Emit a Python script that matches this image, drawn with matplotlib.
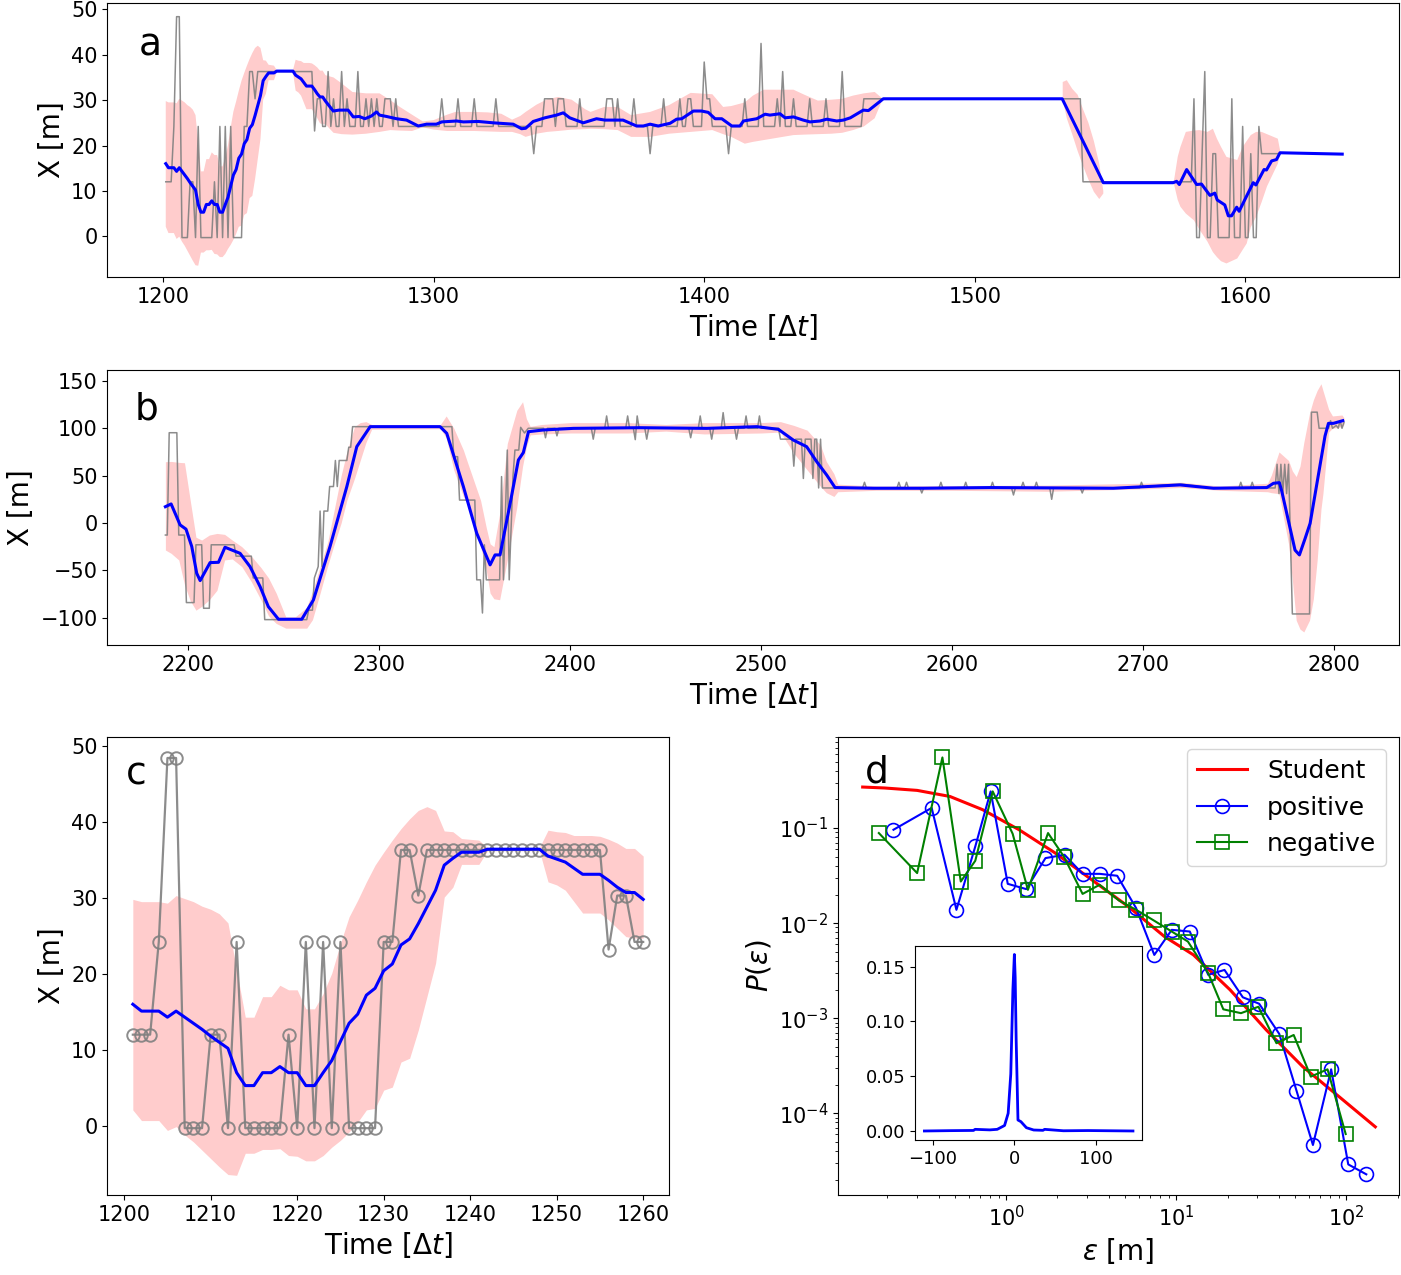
import numpy as np
import matplotlib
matplotlib.use("Agg")
import matplotlib.pyplot as plt

# ---- panel c / start of panel a (t = 1201..1260) ----
c_t = np.arange(1201, 1261)
c_gray = [12, 12, 12, 24.2, 48.4, 48.4, -0.3, -0.3, -0.3, 12, 12, -0.3, 24.2,
          -0.3, -0.3, -0.3, -0.3, -0.3, 12, -0.3, 24.2, -0.3, 24.2, -0.3, 24.2,
          -0.3, -0.3, -0.3, -0.3, 24.2, 24.2, 36.3, 36.3, 30.3,
          36.3, 36.3, 36.3, 36.3, 36.3, 36.3, 36.3, 36.3, 36.3, 36.3, 36.3,
          36.3, 36.3, 36.3, 36.3, 36.3, 36.3, 36.3, 36.3, 36.3, 36.3,
          23.2, 30.3, 30.3, 24.2, 24.2]
c_mean = [16.0, 15.1, 15.1, 15.1, 14.3, 15.1, 14.3, 13.5, 12.7, 11.8, 11.0, 10.2,
          7.0, 5.3, 5.3, 7.0, 7.0, 7.8, 7.0, 7.0, 5.3, 5.3, 7.0, 8.6, 11.1, 13.5,
          14.7, 17.2, 18.1, 20.4, 21.3, 23.8, 24.6, 26.6, 28.8, 31.0, 34.3, 35.2,
          36.0, 36.0, 36.0, 36.4, 36.4, 36.4, 36.4, 36.4, 36.4, 36.4,
          35.5, 35.1, 34.7, 33.9, 33.1, 33.1, 33.1, 32.3, 31.4, 30.7, 30.7, 29.8]
c_hi = [29.8, 29.5, 29.5, 29.5, 29.3, 30.3, 29.9, 29.5, 28.9, 28.5, 27.9, 26.7,
        20.5, 14.3, 14.3, 17.0, 17.0, 18.5, 17.9, 17.9, 15.4, 15.4, 17.4, 20.1,
        24.0, 27.5, 29.7, 32.1, 34.3, 36.0, 37.6, 39.1, 40.4, 41.5, 42.0, 41.5,
        38.8, 38.7, 37.8, 37.7, 37.6, 36.6, 36.6, 36.6, 36.6, 36.6, 36.6, 36.6,
        38.9, 38.7, 38.6, 38.2, 38.2, 38.2, 38.1, 37.7, 37.2, 36.5, 36.5, 35.5]
c_lo = [2.1, 0.7, 0.7, 0.7, -0.6, -0.1, -1.2, -2.1, -3.2, -4.3, -5.4, -6.4,
        -6.5, -3.6, -3.6, -3.1, -3.1, -3.0, -3.9, -4.0, -4.6, -4.6, -3.9, -2.8,
        -1.9, -0.8, 0.5, 2.1, 2.3, 4.7, 5.1, 8.4, 8.9, 12.6, 17.0, 21.4, 30.1,
        31.4, 34.4, 34.4, 34.4, 36.2, 36.2, 36.2, 36.2, 36.2, 36.2, 36.2,
        32.1, 31.7, 31.0, 29.5, 28.0, 28.0, 28.0, 27.1, 26.0, 24.9, 24.7, 24.7]

# ---- rest of panel a (t = 1261..1612 for the observations) ----
gray_a_levels = [36.3, 24.2, 30.3, 24.2, 36.3, 24.2, 30.3, 24.2, 36.3, 24.2, 30.3,
                 24.2, 30.3, 24.2, 30.3, 24.2, 30.3, 24.2, 30.3, 24.2, 30.3, 24.2,
                 30.3, 24.2, 30.3, 24.2, 30.3, 24.2, 18.2, 24.2, 30.3, 24.2, 30.3,
                 24.2, 30.3, 24.2, 30.3, 24.2, 30.3, 24.2, 30.3, 24.2, 18.2, 24.2,
                 30.3, 24.2, 30.3, 24.2, 30.3, 24.2, 38.4, 30.3, 24.2, 18.2, 24.2,
                 30.3, 24.2, 42.5, 24.2, 30.3, 24.2, 36.3, 24.2, 30.3, 24.2, 30.3,
                 24.2, 30.3, 24.2, 36.3, 24.2, 30.3, 12, 30.3, -0.3, 18.2, 36.3,
                 -0.3, 18.2, -0.3, 30.3, -0.3, 24.2, -0.3, 18.2, -0.3, 24.2, 18.2]
gray_a_runs = [1, 1, 1, 2, 1, 1, 1, 3, 1, 2, 1,
               1, 1, 1, 1, 2, 3, 1, 1, 16, 1, 5,
               1, 5, 1, 7, 1, 13, 1, 3, 4, 1, 3,
               5, 1, 9, 3, 1, 1, 5, 1, 5, 1, 4,
               1, 5, 1, 2, 2, 4, 1, 2, 6, 1, 5,
               1, 5, 1, 5, 1, 1, 1, 3, 1, 5, 1,
               5, 1, 5, 1, 7, 81, 41, 1, 2, 1, 1,
               2, 2, 5, 1, 3, 1, 2, 1, 2, 1, 7]

mean_a_t = [1262.9, 1265, 1268.4, 1270.3, 1272.5, 1274.6, 1277, 1278.9, 1280, 1282.6,
            1286.3, 1290, 1294.3, 1297.4, 1301, 1303, 1308.5, 1311, 1316.5, 1322,
            1329.4, 1332.5, 1334, 1336.8, 1341.1, 1345.4, 1347.9, 1350.3, 1355.3,
            1360.2, 1363.3, 1370, 1375, 1377.5, 1380, 1383, 1387.4, 1389.8, 1391.7,
            1396, 1399, 1401.5, 1404, 1406.5, 1410.2, 1413.2, 1414.5, 1419.4, 1422.5,
            1424.3, 1428, 1429.9, 1433, 1436.6, 1439.1, 1442.8, 1445.3, 1449, 1451.4,
            1454, 1458.8, 1460.7, 1466.2, 1532.3, 1547.5, 1573.3, 1574.6, 1575.6,
            1578.3, 1582, 1583.8, 1586.9, 1588.7, 1589.6, 1592.4, 1593.7, 1594.9,
            1596.8, 1597.7, 1602.9, 1603.9, 1606.9, 1607.8, 1609.7, 1611.5, 1612.8,
            1635.8]
mean_a_v = [27.6, 27.8, 27.8, 26.3, 26.4, 25.9, 26.5, 27.4, 26.7, 26.4,
            25.9, 25.6, 24.3, 24.7, 24.7, 25.2, 25.4, 25.2, 25.3, 25.0,
            24.7, 23.7, 23.8, 25.3, 26.1, 26.7, 27.2, 26.1, 25.0,
            25.9, 25.6, 25.6, 24.3, 24.3, 24.7, 24.3, 24.9, 25.8, 25.9,
            27.6, 27.6, 27.3, 25.9, 25.9, 24.3, 24.3, 25.4, 25.9, 26.9,
            26.7, 27.0, 26.1, 26.3, 25.6, 25.2, 25.4, 25.8, 25.4, 25.6,
            26.1, 27.8, 27.7, 30.3, 30.3, 11.8, 11.8, 12.1, 11.4,
            14.7, 11.4, 11.5, 9.0, 9.5, 8.0, 6.9, 4.5, 4.5,
            6.4, 5.5, 11.8, 11.3, 14.7, 14.6, 16.6, 16.9, 18.4,
            18.1]

nan = np.nan
band_a_t = [1263, 1266, 1270, 1275, 1280, 1284, 1287, 1292, 1296, 1300,
            1305, 1308, 1315, 1320, 1325, 1329, 1332, 1334, 1338, 1342,
            1346, 1351, 1356, 1358, 1363, 1368, 1373, 1380, 1387, 1395,
            1403, 1407, 1410, 1415, 1418, 1422, 1428, 1433, 1437, 1442,
            1447, 1451, 1455, 1459, 1463, 1466, nan,
            1532.5, 1534, 1536, 1538, 1540, 1542, 1544, 1546, 1547.5, nan,
            1573.5, 1575, 1576, 1578, 1581, 1583, 1586, 1588, 1589.5, 1591,
            1593, 1597, 1599, 1600.5, 1602, 1604, 1606, 1608, 1610, 1612, 1613]
band_a_lo = [22.8, 22.5, 22.4, 22.6, 23.0, 23.4, 23.3, 23.2, 24.0, 23.5,
             23.2, 23.2, 23.2, 23.1, 23.0, 23.0, 22.5, 21.9, 22.6, 23.0,
             23.2, 23.5, 23.6, 23.7, 23.6, 23.4, 21.9, 21.9, 22.6, 23.0,
             23.4, 22.5, 21.9, 20.4, 20.8, 21.2, 21.8, 22.3, 22.4, 22.5,
             22.6, 22.8, 23.4, 24.2, 26.0, 30.3, nan,
             30.1, 26.0, 22.5, 18.8, 15.5, 12.5, 9.8, 8.2, 9.4, nan,
             11.8, 8.0, 6.5, 5.0, 3.5, 1.5, -1.2, -3.5, -4.6, -5.5,
             -6.0, -4.9, -3.0, -1.6, 2.0, 4.3, 7.5, 11.0, 13.5, 16.0, 18.4]
band_a_hi = [35.0, 33.7, 31.8, 31.5, 31.5, 30.0, 28.7, 26.8, 25.3, 25.6,
             26.8, 27.4, 27.4, 27.3, 27.0, 25.7, 26.5, 27.4, 29.0, 30.2,
             30.7, 30.1, 28.0, 27.4, 28.5, 28.5, 26.7, 27.4, 28.9, 31.6,
             31.3, 28.5, 28.7, 29.5, 31.0, 32.3, 32.3, 32.3, 31.2, 29.9,
             30.1, 30.3, 31.0, 31.5, 31.8, 30.3, nan,
             34.0, 34.4, 32.5, 31.2, 28.0, 25.0, 21.0, 16.0, 10.0, nan,
             11.8, 17.5, 19.7, 23.0, 23.3, 23.4, 23.0, 23.7, 21.5, 19.7,
             17.5, 16.8, 19.7, 21.0, 22.3, 23.0, 23.0, 22.5, 22.0, 21.5, 18.4]

# ---- panel b ----
gray_b = [(2188, -12.7), (2189, -12.7), (2190, 95.3), (2194, 95.3), (2195, -12.7),
          (2198, -12.7), (2199, -84), (2203, -84), (2204, -23), (2207, -23),
          (2208, -90), (2211, -90), (2212, -23), (2224, -23), (2225, -35),
          (2233, -35), (2234, -58), (2239, -58), (2240, -102), (2262, -102),
          (2263, -92), (2265, -92), (2266, -58), (2268, -46), (2269, 12.6),
          (2270, -46), (2271, 12.6), (2273, 12.6), (2274, 38.5), (2276, 38.5),
          (2277, 66), (2278, 38.5), (2279, 66), (2283, 66), (2284, 80), (2285, 80),
          (2286, 101.7), (2338, 101.7), (2339, 70), (2341, 70), (2342, 24.2),
          (2350, 24.2), (2351, -60), (2353, -60), (2354, -95), (2355, -23),
          (2356, -60), (2363, -60), (2364, 49), (2365, -60), (2367, 77),
          (2368, -60), (2370, 50), (2371, 77), (2373, 77), (2374, 101), (2376, 95),
          (2378, 100), (2386, 100), (2387, 90), (2388, 100), (2392, 100),
          (2393, 92), (2394, 100), (2411, 100), (2412, 88.5), (2413, 100),
          (2418, 100), (2419, 113), (2420, 100), (2429, 100), (2430, 113),
          (2431, 100), (2433, 100), (2434, 88), (2435, 113), (2436, 100),
          (2439, 100), (2440, 88.5), (2441, 100), (2462, 100), (2463, 90),
          (2464, 100), (2467, 100), (2468, 113), (2469, 100), (2473, 100),
          (2474, 88.5), (2475, 100), (2479, 100), (2480, 116.5), (2481, 100),
          (2486, 100), (2487, 88.5), (2488, 100), (2491, 100), (2492, 113),
          (2493, 100), (2498, 100), (2499, 113), (2500, 100), (2509, 100),
          (2510, 88.5), (2516, 88.5), (2517, 60), (2518, 88.5), (2521, 88.5),
          (2522, 47), (2523, 88.5), (2526, 88.5), (2527, 47), (2528, 88.5),
          (2529, 88.5), (2530, 37), (2531, 88.5), (2532, 37), (2553, 37),
          (2554, 43), (2555, 37), (2571, 37), (2572, 43), (2573, 37), (2575, 37),
          (2576, 43), (2577, 37), (2583, 37), (2584, 31.7), (2585, 37), (2593, 37),
          (2594, 43), (2595, 37), (2606, 37), (2607, 43), (2608, 37), (2620, 37),
          (2621, 43), (2622, 37), (2631, 37), (2632, 29.6), (2633, 37), (2636, 37),
          (2637, 43), (2638, 37), (2643, 37), (2644, 43), (2645, 37), (2651, 37),
          (2652, 25), (2653, 37), (2667, 37), (2668, 31.7), (2669, 37), (2698, 37),
          (2699, 43), (2700, 38), (2710, 40), (2720, 41), (2728, 39), (2735, 37),
          (2750, 37), (2751, 43), (2752, 37), (2756, 37), (2757, 43), (2758, 37),
          (2769, 37), (2770, 62), (2771, 31), (2772, 62), (2773, 31), (2774, 62),
          (2775, 31), (2776, 62), (2778, -96), (2787, -96), (2788, 117),
          (2791, 117), (2792, 100), (2797, 100), (2798, 108), (2799, 100),
          (2801, 103), (2802, 100), (2803, 108), (2804, 100), (2805, 106)]

mean_b_t = [2188, 2191, 2195.7, 2198.8, 2201.8, 2204.4, 2206.2, 2211.4, 2215.8, 2219.2,
            2227.1, 2232.3, 2237.6, 2241.9, 2247.2, 2259.4, 2265.5, 2274.2, 2283, 2288.2,
            2295.2, 2331.8, 2335.3, 2344, 2351, 2358, 2360.6, 2363.2, 2368.5, 2372.8,
            2375.4, 2378.1, 2385.9, 2401.6, 2436.5, 2471.4, 2497.5, 2508.9, 2516.7, 2523.7,
            2529, 2534.2, 2538.6, 2558.6, 2584.8, 2619.7, 2684.3, 2719.2, 2736.7, 2764.6,
            2768.1, 2771.2, 2772.4, 2779.4, 2781.7, 2784.7, 2787.3, 2795.1, 2796.9, 2799.5,
            2804.4]
mean_b_v = [17.2, 20.1, -2.0, -6.5, -24.8, -53, -60.8, -41.8, -41.5, -25.6,
            -32, -46, -67.2, -88.3, -101.6, -101.6, -81.2, -24.8, 38.5, 80.6,
            101.7, 101.7, 94.7, 38.5, -10.8, -44.2, -33.7, -33.7, 20.8, 66.5,
            74.3, 96.4, 98.2, 99.9, 100.6, 99.9, 101.7, 98.9, 87.6, 80.6,
            64.7, 50.7, 37.4, 36.7, 36.7, 37.4, 36.7, 40.2, 36.7, 37.4,
            41.9, 42.6, 34.0, -28.6, -33.7, -16.2, -0.4, 91.8, 105.2, 105.2,
            108]

band_b_t = [2188, 2191, 2195, 2198, 2201, 2204, 2207, 2211, 2215, 2219,
            2223, 2228, 2233, 2238, 2242, 2246, 2251, 2256, 2262, 2265,
            2269, 2273, 2276, 2280, 2283, 2287, 2290, 2293, 2296, 2332,
            2335, 2339, 2344, 2346, 2353, 2356, 2358, 2360, 2363, 2367,
            2372, 2375, 2377, 2379, 2385, 2400, 2430, 2450, 2470, 2500,
            2510, 2517, 2524, 2531, 2534, 2538, 2540, 2560, 2600, 2650,
            2700, 2720, 2740, 2765, 2767, 2771, 2776, 2778, 2780, 2782,
            2784, 2787, 2789, 2791, 2793, 2794, 2797, 2799, 2804, 2805]
band_b_lo = [-28.5, -32, -39, -65, -82, -92, -88, -81, -71, -39,
             -38, -46, -62, -81, -98, -106, -111, -111, -111, -102,
             -74, -45, -25, 0, 24, 47, 66, 85, 99, 99.5,
             90, 56, 28, 21, -25, -50, -74, -80, -81, -39,
             17, 60, 80.6, 93, 94, 95, 95, 97, 94, 95,
             96, 73.5, 56, 38.5, 32, 28, 33, 34.5, 34.5, 33.5,
             36, 37.5, 34.5, 33, 32, 31, -22, -60, -102.6, -112,
             -115, -102.6, -80, -39, 15, 31, 96, 100, 101.7, 104]
band_b_hi = [64.7, 65, 64, 63.6, 24, -15, -18, -12.7, -11, -12,
             -18, -25, -35, -47, -58, -74, -99, -99, -89, -72,
             -46, -20, 10, 50, 75, 101.7, 106, 107, 104, 104,
             113, 100, 77, 65, 24, -5, -22, -25, 10, 84,
             119, 128, 110, 102, 104, 106, 106, 104, 106, 106,
             107, 103, 98, 82, 65, 52, 41, 39, 39.5, 40,
             42, 43, 39, 42, 50.6, 75, 66, 55, 49, 60,
             85, 116, 130, 140, 147, 140, 120, 113, 114, 111]

# ---- panel d ----
student_eps = [0.143, 0.192, 0.299, 0.466, 0.726, 1.19, 1.94, 3.18, 5.20, 8.51,
               12.6, 20.7, 33.8, 55.3, 90.4, 148]
student_p = [0.270, 0.264, 0.249, 0.215, 0.156, 0.0959, 0.0546, 0.0286, 0.0150,
             0.00723, 0.00464, 0.00199, 0.000753, 0.00031, 0.00015, 7.2e-5]
pos_eps = [0.217, 0.364, 0.509, 0.657, 0.809, 1.02, 1.31, 1.70, 2.20, 2.81,
           3.54, 4.49, 5.80, 7.42, 9.40, 12.0, 15.4, 19.2, 24.6, 30.7,
           40.3, 50.9, 63.6, 81.4, 102.6, 131]
pos_p = [0.096, 0.163, 0.0138, 0.064, 0.243, 0.0259, 0.0228, 0.0483, 0.0524, 0.033,
         0.033, 0.0315, 0.0144, 0.00463, 0.0085, 0.00816, 0.00286, 0.00322, 0.00166,
         0.00142, 0.000684, 0.000173, 4.64e-5, 0.00029, 2.9e-5, 2.28e-5]
neg_eps = [0.178, 0.299, 0.421, 0.540, 0.657, 0.832, 1.09, 1.34, 1.76, 2.18,
           2.81, 3.54, 4.60, 5.80, 7.35, 9.40, 11.7, 15.4, 18.9, 24.0,
           30.4, 38.8, 49.0, 61.8, 77.5, 99.1]
neg_p = [0.0886, 0.0336, 0.553, 0.0274, 0.0453, 0.243, 0.0871, 0.0224, 0.0886, 0.0502,
         0.0203, 0.0253, 0.0173, 0.0138, 0.0107, 0.00816, 0.0064, 0.00298, 0.00124,
         0.00113, 0.00132, 0.000546, 0.000666, 0.000243, 0.00029, 6.05e-5]
inset_x = [-110, -80, -50, -48, -30, -21, -12, -7.6, -4.4, -1.8, 0, 1, 2.2, 4.4,
           8, 14.7, 23.6, 35, 37, 60, 90, 145]
inset_y = [0, 0.0003, 0.0005, 0.0015, 0.001, 0.0015, 0.005, 0.0161, 0.052, 0.129,
           0.161, 0.14, 0.083, 0.01, 0.0085, 0.003, 0.0009, 0.0006, 0.0015, 0.0002,
           0.0004, 0]

PINK = '#ffcccc'
TICK = 15
LAB = 20
LETTER = 27

fig = plt.figure(figsize=(14.01, 12.75), dpi=100)
ax_a = fig.add_axes([0.0766, 0.7827, 0.9222, 0.2149])
ax_b = fig.add_axes([0.0766, 0.4941, 0.9222, 0.2157])
ax_c = fig.add_axes([0.0766, 0.0627, 0.4007, 0.3595])
ax_d = fig.add_axes([0.5981, 0.0627, 0.4004, 0.3595])

# panel a
ta_obs = np.arange(1201, 1613)
xa_obs = np.concatenate([c_gray, np.repeat(gray_a_levels, gray_a_runs)])
ta_band = np.concatenate([c_t, band_a_t])
ax_a.fill_between(ta_band, np.concatenate([c_lo, band_a_lo]),
                  np.concatenate([c_hi, band_a_hi]), color=PINK, lw=0)
ax_a.plot(ta_obs, xa_obs, color='gray', lw=1.1, alpha=0.9)
ax_a.plot(np.concatenate([c_t, mean_a_t]), np.concatenate([c_mean, mean_a_v]),
          color='blue', lw=2.2)
ax_a.set_xlim(1179.4, 1656.9)
ax_a.set_ylim(-9.0, 51.4)
ax_a.set_xticks([1200, 1300, 1400, 1500, 1600])
ax_a.set_yticks([0, 10, 20, 30, 40, 50])
ax_a.set_xlabel(r'Time [$\Delta t$]', fontsize=LAB)
ax_a.set_ylabel('X [m]', fontsize=LAB)
ax_a.text(0.024, 0.81, 'a', transform=ax_a.transAxes, fontsize=LETTER)

# panel b
gb = np.array(gray_b)
ax_b.fill_between(band_b_t, band_b_lo, band_b_hi, color=PINK, lw=0)
ax_b.plot(gb[:, 0], gb[:, 1], color='gray', lw=1.1, alpha=0.9)
ax_b.plot(mean_b_t, mean_b_v, color='blue', lw=2.2)
ax_b.set_xlim(2157.6, 2834)
ax_b.set_ylim(-128.8, 161.5)
ax_b.set_xticks([2200, 2300, 2400, 2500, 2600, 2700, 2800])
ax_b.set_yticks([-100, -50, 0, 50, 100, 150])
ax_b.set_xlabel(r'Time [$\Delta t$]', fontsize=LAB)
ax_b.set_ylabel('X [m]', fontsize=LAB)
ax_b.text(0.0214, 0.82, 'b', transform=ax_b.transAxes, fontsize=LETTER)

# panel c
ax_c.fill_between(c_t, c_lo, c_hi, color=PINK, lw=0)
ax_c.plot(c_t, c_gray, color='gray', lw=1.6, marker='o', ms=9,
          mfc='none', mec='gray', mew=1.4, alpha=0.9)
ax_c.plot(c_t, c_mean, color='blue', lw=2.2)
ax_c.set_xlim(1198.05, 1262.95)
ax_c.set_ylim(-9.1, 51.2)
ax_c.set_xticks(np.arange(1200, 1261, 10))
ax_c.set_yticks([0, 10, 20, 30, 40, 50])
ax_c.set_xlabel(r'Time [$\Delta t$]', fontsize=LAB)
ax_c.set_ylabel('X [m]', fontsize=LAB)
ax_c.text(0.033, 0.896, 'c', transform=ax_c.transAxes, fontsize=LETTER)

# panel d
ax_d.plot(student_eps, student_p, color='red', lw=2.2, label='Student')
ax_d.plot(pos_eps, pos_p, color='blue', lw=1.5, marker='o', ms=10,
          mfc='none', mew=1.2, label='positive')
ax_d.plot(neg_eps, neg_p, color='green', lw=1.5, marker='s', ms=10,
          mfc='none', mew=1.2, label='negative')
ax_d.set_xscale('log')
ax_d.set_yscale('log')
ax_d.set_xlim(0.1023, 203.7)
ax_d.set_ylim(1.38e-5, 0.914)
ax_d.set_xlabel(r'$\varepsilon$ [m]', fontsize=LAB)
ax_d.set_ylabel(r'$P(\varepsilon)$', fontsize=LAB)
ax_d.legend(loc='upper right', fontsize=18, handlelength=2.0)
ax_d.text(0.0487, 0.9, 'd', transform=ax_d.transAxes, fontsize=LETTER)

for ax in (ax_a, ax_b, ax_c, ax_d):
    ax.tick_params(labelsize=TICK)

ax_in = fig.add_axes([0.6534, 0.1059, 0.1617, 0.1522])
ax_in.plot(inset_x, inset_y, color='blue', lw=2)
ax_in.set_xlim(-121, 156)
ax_in.set_ylim(-0.0082, 0.1688)
ax_in.set_xticks([-100, 0, 100])
ax_in.set_yticks([0.0, 0.05, 0.10, 0.15])
ax_in.set_yticklabels(['0.00', '0.05', '0.10', '0.15'])
ax_in.tick_params(labelsize=13)

fig.savefig('out.png', dpi=100)
